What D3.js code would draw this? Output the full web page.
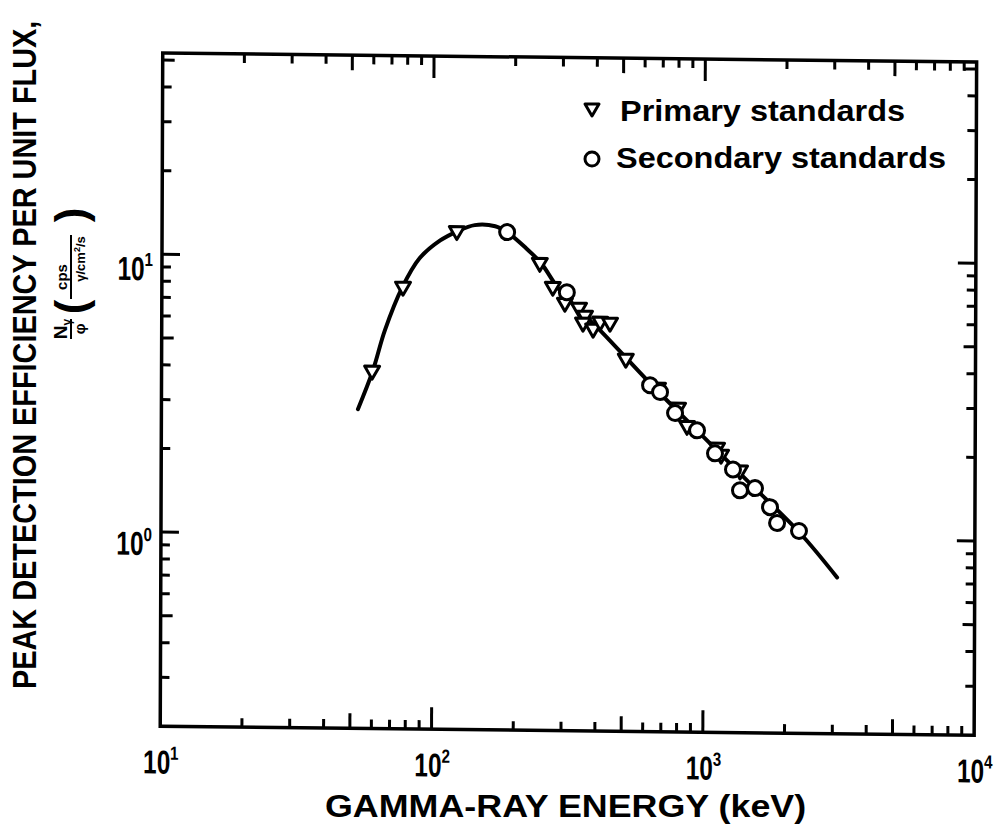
<!DOCTYPE html>
<html>
<head>
<meta charset="utf-8">
<script src="https://cdnjs.cloudflare.com/ajax/libs/d3/7.8.5/d3.min.js"></script>
<style>
  body { margin: 0; background: #fff; }
  svg { display: block; }
  text { font-family: "Liberation Sans", Arial, sans-serif; font-weight: bold; fill: #000; }
</style>
</head>
<body>
<svg id="chart" width="1008" height="825"></svg>
<script>
// Fitted efficiency curve (keV, counts per unit flux)
const curveEnergy = [53, 60, 66.5, 77, 89, 106, 122, 142, 169, 187, 218, 250, 293, 413, 632, 967, 1480, 2270, 3110];
const curveEff    = [2.82, 3.87, 5.44, 7.78, 9.9, 11.5, 12.4, 13.1, 13.0, 12.4, 10.95, 9.6, 7.69, 5.54, 3.59, 2.38, 1.58, 1.05, 0.73];

// Primary standards (triangles)
const primaryEnergy = [59.7, 77.4, 122, 247, 276, 306, 345, 363, 357, 389, 413, 449, 514, 676, 802, 866, 1118, 1157, 1360];
const primaryEff    = [3.87, 7.78, 12.4, 9.6, 7.88, 6.91, 6.64, 6.22, 5.87, 5.59, 5.93, 5.88, 4.37, 3.45, 2.93, 2.52, 2.11, 1.99, 1.75];

// Secondary standards (circles)
const secondaryEnergy = [187, 311, 632, 688, 782, 943, 1099, 1281, 1360, 1545, 1756, 1865, 2247];
const secondaryEff    = [12.4, 7.57, 3.53, 3.34, 2.81, 2.44, 2.02, 1.77, 1.49, 1.52, 1.30, 1.14, 1.07];

const xDecadeExponents = [1, 2, 3, 4];
const yDecadeExponents = [0, 1];
const legendLabels = ["Primary standards", "Secondary standards"];
const xTitle = "GAMMA-RAY ENERGY (keV)";
const yTitle = "PEAK DETECTION EFFICIENCY PER UNIT FLUX,";

const svg = d3.select("#chart");

const x = d3.scaleLog().domain([10, 1e4]).range([161.5, 975.4]);
const y = d3.scaleLog().domain([0.2, 53]).range([730.7, 57.5]);

const [X0, X1] = x.range();
const [Y1, Y0] = y.range();

// the printed frame is very slightly sheared
const plot = svg.append("g")
  .attr("transform", "matrix(1,0.011,-0.0037,1,1.443,-6.215)");

// frame
plot.append("rect")
  .attr("x", X0).attr("y", Y0)
  .attr("width", X1 - X0).attr("height", Y1 - Y0)
  .attr("fill", "none").attr("stroke", "#000").attr("stroke-width", 3.5);

function tickKind(v) {
  const l = Math.log10(v);
  if (Math.abs(l - Math.round(l)) < 1e-9) return "major";
  const lead = Math.round(v / Math.pow(10, Math.floor(l + 1e-9)));
  return lead === 5 ? "mid" : "minor";
}

const xLen = { major: 22, mid: 15, minor: 9 };
const yLen = { major: 18, mid: 12, minor: 9 };

const xt = x.ticks().filter(v => v > 10 && v < 1e4);
const yt = y.ticks().filter(v => v > 0.2 && v < 53);

const ticks = plot.append("g").attr("stroke", "#000").attr("stroke-width", 3);
xt.forEach(v => {
  const px = x(v), L = xLen[tickKind(v)];
  ticks.append("line").attr("x1", px).attr("x2", px).attr("y1", Y1).attr("y2", Y1 - L);
  ticks.append("line").attr("x1", px).attr("x2", px).attr("y1", Y0).attr("y2", Y0 + L);
});
yt.forEach(v => {
  const py = y(v), L = yLen[tickKind(v)];
  ticks.append("line").attr("x1", X0).attr("x2", X0 + L).attr("y1", py).attr("y2", py);
  ticks.append("line").attr("x1", X1).attr("x2", X1 - L).attr("y1", py).attr("y2", py);
});

// decade labels: tall narrow "10" with a raised exponent
function decadeLabel(g, left, base, e) {
  g.append("text")
    .attr("transform", `translate(${left},${base}) scale(0.74,1)`)
    .attr("font-size", 33).text("10");
  g.append("text")
    .attr("transform", `translate(${left + 27},${base - 14}) scale(0.8,1)`)
    .attr("font-size", 19).text(e);
}
const labels = plot.append("g");
xDecadeExponents.forEach(e => {
  decadeLabel(labels, x(Math.pow(10, e)) - 17, 778, e);
});
yDecadeExponents.forEach(e => {
  decadeLabel(labels, 117, y(Math.pow(10, e)) + (e === 1 ? 26 : 23), e);
});

// fitted curve
const curvePts = curveEnergy.map((e, i) => [x(e), y(curveEff[i])]);
plot.append("path")
  .attr("d", d3.line().curve(d3.curveCatmullRom.alpha(0.5))(curvePts))
  .attr("fill", "none").attr("stroke", "#000").attr("stroke-width", 4)
  .attr("stroke-linecap", "round");

const triPath = "M-7.5,-5L7.5,-5L0,8Z";

// primary standards
plot.append("g").selectAll("path")
  .data(primaryEnergy.map((e, i) => [e, primaryEff[i]]))
  .join("path")
  .attr("d", triPath)
  .attr("transform", d => `translate(${x(d[0])},${y(d[1])})`)
  .attr("fill", "#fff").attr("stroke", "#000").attr("stroke-width", 3)
  .attr("stroke-linejoin", "round");

// secondary standards
plot.append("g").selectAll("circle")
  .data(secondaryEnergy.map((e, i) => [e, secondaryEff[i]]))
  .join("circle")
  .attr("cx", d => x(d[0])).attr("cy", d => y(d[1])).attr("r", 7.5)
  .attr("fill", "#fff").attr("stroke", "#000").attr("stroke-width", 3);

// legend
const lg = svg.append("g");
lg.append("path").attr("d", "M-7,-5L7,-5L0,7Z").attr("transform", "translate(592,109)")
  .attr("fill", "#fff").attr("stroke", "#000").attr("stroke-width", 3).attr("stroke-linejoin", "round");
lg.append("circle").attr("cx", 592).attr("cy", 159).attr("r", 7)
  .attr("fill", "#fff").attr("stroke", "#000").attr("stroke-width", 3);
lg.append("text").attr("transform", "translate(620,121) scale(1.12,1)")
  .attr("font-size", 29).text(legendLabels[0]);
lg.append("text").attr("transform", "translate(616,168) scale(1.12,1)")
  .attr("font-size", 29).text(legendLabels[1]);

// axis titles
svg.append("text").attr("transform", "translate(325,817) scale(1.12,1)")
  .attr("font-size", 32).text(xTitle);

svg.append("text").attr("transform", "translate(36,689) rotate(-90) scale(0.875,1)")
  .attr("font-size", 33).text(yTitle);

// units: (N_γ / φ) (cps / γ/cm²/s)
const u = svg.append("g").attr("transform", "translate(68,265) rotate(-90)");
const nt = u.append("text").attr("x", -64).attr("y", -1).attr("text-anchor", "middle").attr("font-size", 19);
nt.append("tspan").text("N");
nt.append("tspan").attr("font-size", 12).attr("dy", 4).text("γ");
u.append("line").attr("x1", -74).attr("x2", -54).attr("y1", 3).attr("y2", 3)
  .attr("stroke", "#000").attr("stroke-width", 2);
u.append("text").attr("x", -64).attr("y", 17).attr("text-anchor", "middle").attr("font-size", 15).text("φ");
u.append("text").attr("x", -42).attr("y", 18).attr("text-anchor", "middle")
  .attr("font-size", 44).attr("font-weight", "normal").text("(");
u.append("text").attr("x", -12).attr("y", -1).attr("text-anchor", "middle").attr("font-size", 15).text("cps");
u.append("line").attr("x1", -34).attr("x2", 30).attr("y1", 3).attr("y2", 3)
  .attr("stroke", "#000").attr("stroke-width", 2);
const dt = u.append("text").attr("x", 6).attr("y", 17).attr("text-anchor", "middle").attr("font-size", 13);
dt.append("tspan").text("γ/cm");
dt.append("tspan").attr("font-size", 9).attr("dy", -5).text("2");
dt.append("tspan").attr("dy", 5).text("/s");
u.append("text").attr("x", 50).attr("y", 18).attr("text-anchor", "middle")
  .attr("font-size", 44).attr("font-weight", "normal").text(")");
</script>
</body>
</html>
